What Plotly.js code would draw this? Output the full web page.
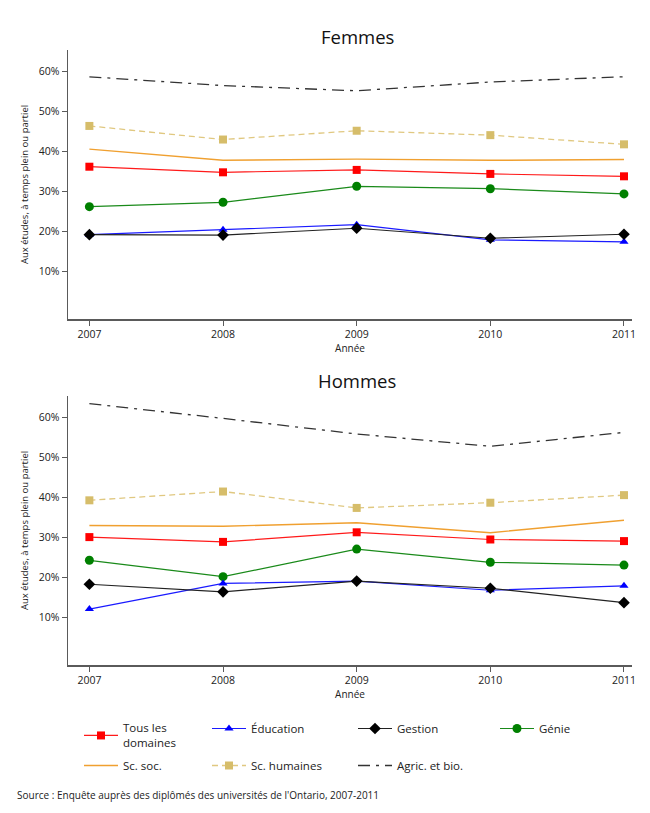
<!DOCTYPE html>
<html>
<head>
<meta charset="utf-8">
<script src="https://cdn.plot.ly/plotly-3.0.1.min.js"></script>
<style>
  html, body { margin: 0; padding: 0; background: #fff; }
  #chart { width: 650px; height: 813px; }
</style>
</head>
<body>
<div id="chart"></div>
<script>
// ---- Data ----
const years = [2007, 2008, 2009, 2010, 2011];
const seriesNames = ["Tous les<br>domaines", "Éducation", "Gestion", "Génie", "Sc. soc.", "Sc. humaines", "Agric. et bio."];

// Femmes (%)
const tousF   = [36.2, 34.8, 35.4, 34.4, 33.8];
const educF   = [19.2, 20.4, 21.7, 17.9, 17.4];
const gestF   = [19.2, 19.1, 20.8, 18.3, 19.3];
const genieF  = [26.2, 27.3, 31.3, 30.7, 29.4];
const socF    = [40.6, 37.8, 38.1, 37.8, 38.0];
const humF    = [46.4, 43.0, 45.2, 44.1, 41.8];
const agricF  = [58.7, 56.5, 55.2, 57.4, 58.7];

// Hommes (%)
const tousH   = [30.1, 28.9, 31.3, 29.5, 29.1];
const educH   = [12.1, 18.5, 19.1, 16.8, 17.9];
const gestH   = [18.3, 16.4, 19.1, 17.3, 13.7];
const genieH  = [24.3, 20.2, 27.1, 23.8, 23.1];
const socH    = [33.0, 32.8, 33.7, 31.2, 34.3];
const humH    = [39.3, 41.5, 37.4, 38.7, 40.6];
const agricH  = [63.5, 59.8, 55.9, 52.8, 56.3];

const yTicks = [10, 20, 30, 40, 50, 60];
const yTickText = ["10%", "20%", "30%", "40%", "50%", "60%"];
const panelTitles = ["Femmes", "Hommes"];
const yTitle = "Aux études, à temps plein ou partiel";
const xTitle = "Année";
const sourceText = "Source : Enquête auprès des diplômés des universités de l'Ontario, 2007-2011";

// ---- Styles ----
const styles = [
  {line: {color: "#ff1a1a", width: 1.2}, mode: "lines+markers", marker: {symbol: "square", size: 8, color: "#ff0000"}},
  {line: {color: "#1a1aff", width: 1.2}, mode: "lines+markers", marker: {symbol: "triangle-up", size: 8, color: "#0000ff"}},
  {line: {color: "#222222", width: 1.2}, mode: "lines+markers", marker: {symbol: "diamond", size: 9, color: "#000000"}},
  {line: {color: "#1a8a1a", width: 1.2}, mode: "lines+markers", marker: {symbol: "circle", size: 9, color: "#008000"}},
  {line: {color: "#f0a030", width: 1.4}, mode: "lines"},
  {line: {color: "#e0c880", width: 1.3, dash: "6px,4px"}, mode: "lines+markers", marker: {symbol: "square", size: 8, color: "#d6bd6a"}},
  {line: {color: "#333333", width: 1.3, dash: "12px,6px,3px,6px"}, mode: "lines"}
];

// legend placement (pixels in the 650x813 page): [left of item, top of item]
const legendPos = [[79, 714], [207, 714], [353, 714], [495, 714], [79, 751], [207, 751], [353, 751]];

const femmes = [tousF, educF, gestF, genieF, socF, humF, agricF];
const hommes = [tousH, educH, gestH, genieH, socH, humH, agricH];
const drawOrder = [6, 5, 4, 0, 3, 1, 2];
const legendIds = ["legend", "legend2", "legend3", "legend4", "legend5", "legend6", "legend7"];

const traces = [];
drawOrder.forEach(function (i) {
  traces.push(Object.assign({
    x: years, y: femmes[i], name: seriesNames[i], xaxis: "x", yaxis: "y",
    legend: legendIds[i], legendgroup: "g" + i, showlegend: true, hoverinfo: "skip"
  }, JSON.parse(JSON.stringify(styles[i]))));
});
drawOrder.forEach(function (i) {
  traces.push(Object.assign({
    x: years, y: hommes[i], name: seriesNames[i], xaxis: "x2", yaxis: "y2",
    legendgroup: "g" + i, showlegend: false, hoverinfo: "skip"
  }, JSON.parse(JSON.stringify(styles[i]))));
});

const FONT = "'Open Sans', 'Noto Sans', sans-serif";
const axisLine = "#5a5a5a";
const PL = 68, PR = 632, PT = 50, PB = 665;   // plot-area box in page pixels
const px2x = function (p) { return (p - PL) / (PR - PL); };
const px2y = function (p) { return (PB - p) / (PB - PT); };

function xAxis(anchor) {
  return {
    anchor: anchor, range: [2006.84, 2011.06], tickmode: "array", tickvals: years, ticktext: years.map(String),
    showline: true, linecolor: axisLine, linewidth: 1.5, ticks: "outside", ticklen: 5,
    tickcolor: axisLine, showgrid: false, zeroline: false,
    tickfont: {size: 10.5, color: "#222", family: FONT},
    title: {text: xTitle, font: {size: 10, color: "#222", family: FONT}, standoff: 0}
  };
}
function yAxis(anchor, domain) {
  return {
    anchor: anchor, domain: domain, range: [-1.9, 65.4], tickmode: "array", tickvals: yTicks, ticktext: yTickText,
    showline: true, linecolor: axisLine, linewidth: 1.5, ticks: "outside", ticklen: 5,
    tickcolor: axisLine, showgrid: false, zeroline: false,
    tickfont: {size: 10.5, color: "#222", family: FONT},
    title: {text: yTitle, font: {size: 9.5, color: "#222", family: FONT}, standoff: 8}
  };
}

const layout = {
  width: 650, height: 813,
  margin: {l: PL, r: 650 - PR, t: PT, b: 813 - PB, autoexpand: false},
  paper_bgcolor: "#fff", plot_bgcolor: "#fff",
  font: {family: FONT, color: "#222"},
  xaxis: xAxis("y"),
  yaxis: yAxis("x", [px2y(319), 1]),
  xaxis2: xAxis("y2"),
  yaxis2: yAxis("x2", [0, px2y(396)]),
  showlegend: true,
  annotations: [
    {text: panelTitles[0], xref: "paper", yref: "paper", x: px2x(357), y: px2y(37),
     xanchor: "center", yanchor: "middle", showarrow: false, font: {size: 18.5, color: "#111", family: FONT, weight: 400}},
    {text: panelTitles[1], xref: "paper", yref: "paper", x: px2x(357), y: px2y(380),
     xanchor: "center", yanchor: "middle", showarrow: false, font: {size: 18.5, color: "#111", family: FONT, weight: 400}},
    {text: sourceText, xref: "paper", yref: "paper", x: px2x(15), y: px2y(795),
     xanchor: "left", yanchor: "middle", showarrow: false, font: {size: 10, color: "#222", family: FONT}}
  ]
};

legendIds.forEach(function (id, i) {
  layout[id] = {
    xref: "paper", yref: "paper",
    x: px2x(legendPos[i][0]), y: px2y(legendPos[i][1]),
    xanchor: "left", yanchor: "top", bgcolor: "rgba(0,0,0,0)",
    font: {size: 11.5, color: "#222", family: FONT}, itemwidth: 34
  };
});

Plotly.newPlot("chart", traces, layout, {staticPlot: true, displayModeBar: false});
</script>
</body>
</html>
